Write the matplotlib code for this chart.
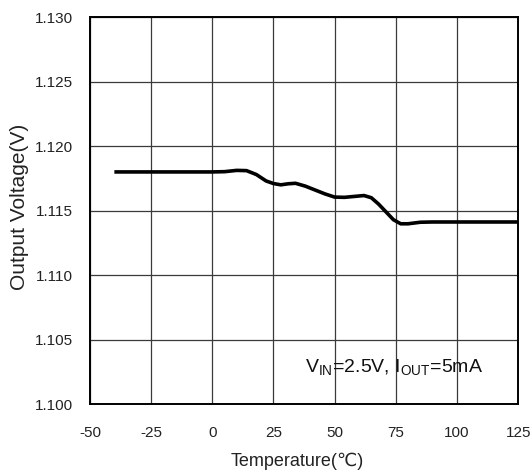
import matplotlib.pyplot as plt

# Output voltage vs temperature
temperature = [-40, -30, -20, -10, 0, 5, 10, 14, 18, 22, 25, 28, 31, 34, 38, 42, 46, 50,
               54, 58, 62, 65, 68, 71, 74, 77, 80, 85, 90, 100, 110, 125]
voltage = [1.1180, 1.1180, 1.1180, 1.1180, 1.1180, 1.11802, 1.11812, 1.1181, 1.1178, 1.1173,
           1.1171, 1.11700, 1.11708, 1.11712, 1.1169, 1.1166, 1.1163, 1.11605,
           1.11603, 1.11610, 1.11617, 1.11600, 1.1155, 1.1149, 1.1143, 1.11398, 1.11398,
           1.11410, 1.11412, 1.11412, 1.11412, 1.11412]

x_ticks = [-50, -25, 0, 25, 50, 75, 100, 125]
y_ticks = [1.100, 1.105, 1.110, 1.115, 1.120, 1.125, 1.130]

plt.rcParams['font.family'] = ['Liberation Sans', 'DejaVu Sans']
plt.rcParams['axes.unicode_minus'] = False

fig = plt.figure(figsize=(5.32, 4.76), dpi=100)
ax = fig.add_axes([0.169, 0.151, 0.805, 0.813])

ax.plot(temperature, voltage, color='black', linewidth=2.6, solid_capstyle='butt')

ax.set_xlim(-50, 125)
ax.set_ylim(1.100, 1.130)
ax.set_xticks(x_ticks)
ax.set_yticks(y_ticks)
ax.set_yticklabels([f'{v:.3f}' for v in y_ticks])
ax.grid(True, color='#3a3a3a', linewidth=0.9)
ax.set_axisbelow(True)
ax.tick_params(axis='y', length=0, labelsize=11, pad=12, labelcolor='#222222')
ax.tick_params(axis='x', length=0, labelsize=11, pad=16, labelcolor='#222222')
for s in ax.spines.values():
    s.set_linewidth(1.4)
    s.set_color('black')

ax.set_xlabel('Temperature(℃)', fontsize=13, color='#222222')
ax.xaxis.set_label_coords(0.484, -0.126)
ax.set_ylabel('Output Voltage(V)', fontsize=15, color='#222222')
ax.yaxis.set_label_coords(-0.143, 0.51)

ax.text(0.918, 0.095, r'V$_{\mathregular{IN}}$=2.5V, I$_{\mathregular{OUT}}$=5mA',
        transform=ax.transAxes, ha='right', va='center', fontsize=14, color='#111111')

fig.savefig('out.png', dpi=100)
